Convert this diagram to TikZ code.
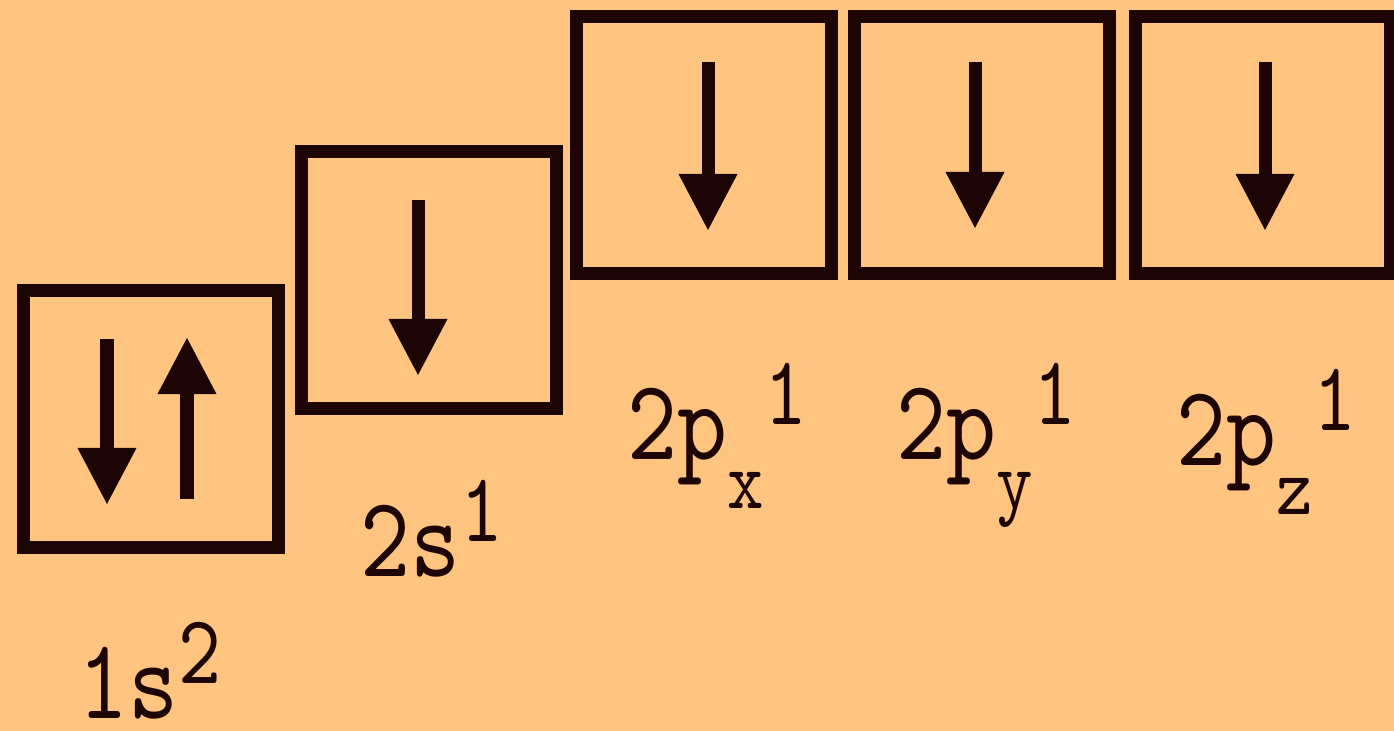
\documentclass[tikz,border=0pt]{standalone}
\usepackage{fontspec}
\usetikzlibrary{arrows.meta,calc}
\newfontfamily\orbfont[FakeStretch=0.83]{lmmono10-regular.otf}
\definecolor{paper}{RGB}{255,197,128}
\definecolor{ink}{RGB}{30,5,5}
\newcommand\orb[3]{{\fontsize{32.6pt}{35pt}\selectfont #1}%
  \if\relax\detokenize{#2}\relax\else
  \raisebox{-0.48cm}{\fontsize{23.8pt}{26pt}\selectfont #2}\fi
  \raisebox{0.35cm}{\fontsize{28pt}{30pt}\selectfont #3}}
\tikzset{
  spin/.style={draw=ink,line width=0.13cm,-{Triangle[length=0.56cm,width=0.59cm,line width=0pt]}},
  lbl/.style={anchor=base west,inner sep=0,text=ink,font=\orbfont}
}
\begin{document}
\begin{tikzpicture}[x=0.01cm,y=0.01cm]

      \fill[paper] (0,0) rectangle (1394,731);
      \useasboundingbox (0,0) rectangle (1394,731);

      \begin{scope}[every node/.style={draw=ink,line width=0.13cm,minimum width=2.55cm,minimum height=2.56cm,inner sep=0}]
        \node (s1) at (151,312) {};
        \node (s2) at (429,451) {};
        \node (s3) at (704,586) {};
        \node (s4) at (982,586) {};
        \node (s5) at (1263,586) {};
      \end{scope}

      \draw[spin] ($(s1)+(-44,80)$) -- ($(s1)+(-44,-85)$);
      \draw[spin] ($(s1)+(36,-80)$) -- ($(s1)+(36,81)$);
      \draw[spin] ($(s2)+(-11,80)$) -- ($(s2)+(-11,-95)$);
      \draw[spin] ($(s3)+(4,83)$) -- ($(s3)+(4,-85)$);
      \draw[spin] ($(s4)+(-7,83)$) -- ($(s4)+(-7,-83)$);
      \draw[spin] ($(s5)+(2,83)$) -- ($(s5)+(2,-85)$);

      \node[lbl] (l1) at (78,12)   {\orb{1s}{}{2}};
      \node[lbl] (l2) at (360,154) {\orb{2s}{}{1}};
      \node[lbl] (l3) at (627,271) {\orb{2p}{x}{1}};
      \node[lbl] (l4) at (896,271) {\orb{2p}{y}{1}};
      \node[lbl] (l5) at (1176,265) {\orb{2p}{z}{1}};

    \end{tikzpicture}
\end{document}
